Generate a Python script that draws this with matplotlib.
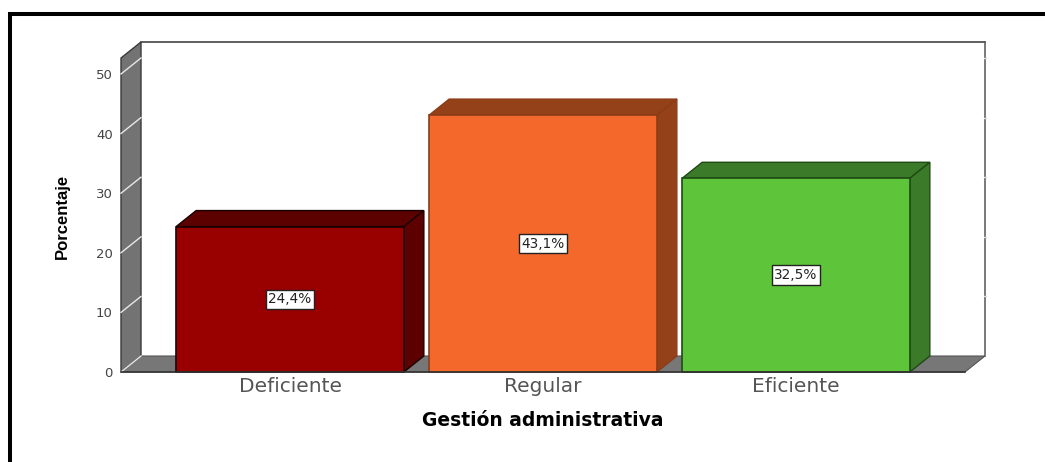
import matplotlib
matplotlib.use('Agg')
import matplotlib.pyplot as plt
from matplotlib.lines import Line2D

categories = ['Deficiente', 'Regular', 'Eficiente']
values = [24.4, 43.1, 32.5]
labels = ['24,4%', '43,1%', '32,5%']
yticks = [0, 10, 20, 30, 40, 50]

front_colors = ['#990000', '#f4682b', '#5ec43a']
side_colors = ['#5c0000', '#94411a', '#3a7a28']
edge_colors = ['#1a0000', '#8a3c18', '#1f4a16']

W, H = 1045, 462
fig = plt.figure(figsize=(W/100, H/100), dpi=100)
ax = fig.add_axes([121/W, (H-372)/H, 844/W, 314/H])

x0, x1 = -0.668, 2.668
y0, y1 = 0, 52.68
ax.set_xlim(x0, x1)
ax.set_ylim(y0, y1)

# depth of the fake 3d, in data units
dx = 20/253
dy = 16/5.96
bar_w = 0.9

# walls
ax.fill([x0+dx, x1+dx, x1+dx, x0+dx], [y0+dy, y0+dy, y1+dy, y1+dy], color='white', clip_on=False, zorder=1)
ax.fill([x0, x0+dx, x0+dx, x0], [y0, y0+dy, y1+dy, y1], facecolor='#737373', edgecolor='#3a3a3a', lw=1, clip_on=False, zorder=2)
ax.fill([x0, x1, x1+dx, x0+dx], [y0, y0, y0+dy, y0+dy], facecolor='#777777', edgecolor='#555555', lw=0.8, clip_on=False, zorder=2)
ax.plot([x0+dx, x1+dx], [y1+dy, y1+dy], color='#333333', lw=1.1, clip_on=False, zorder=2)
ax.plot([x1+dx, x1+dx], [y1+dy, y0+dy], color='#555555', lw=1.1, clip_on=False, zorder=2)

# gridlines only show on the side wall
for t in yticks:
    ax.plot([x0, x0+dx], [t, t+dy], color='#e8e8e8', lw=1, clip_on=False, zorder=3)
    if t > 0:
        ax.plot([x1+dx-0.004, x1+dx+0.004], [t+dy, t+dy], color='#dddddd', lw=1, clip_on=False, zorder=3)

for i, v in enumerate(values):
    l = i - bar_w/2
    r = i + bar_w/2
    ax.fill([l, r, r, l], [0, 0, v, v], facecolor=front_colors[i], edgecolor=edge_colors[i], lw=1.2, zorder=5, clip_on=False)
    ax.fill([l, r, r+dx, l+dx], [v, v, v+dy, v+dy], facecolor=side_colors[i], edgecolor=edge_colors[i], lw=1, zorder=4, clip_on=False)
    ax.fill([r, r+dx, r+dx, r], [0, dy, v+dy, v], facecolor=side_colors[i], edgecolor=edge_colors[i], lw=1, zorder=4, clip_on=False)
    ax.text(i, v/2, labels[i], ha='center', va='center', fontsize=9.8, color='#222222', zorder=6,
            bbox=dict(boxstyle='square,pad=0.2', facecolor='white', edgecolor='#222222', lw=1))

ax.plot([x0, x1], [0, 0], color='#333333', lw=1.2, clip_on=False, zorder=6)

for s in ax.spines.values():
    s.set_visible(False)
ax.patch.set_visible(False)
ax.set_xticks(range(3))
ax.set_xticklabels(categories, fontsize=14.5, color='#555555')
ax.set_yticks(yticks)
ax.set_yticklabels(yticks, fontsize=9.5, color='#444444')
ax.tick_params(length=0)
ax.tick_params(axis='y', pad=6)
ax.tick_params(axis='x', pad=3.5)

fig.text(543/W, 1-420/H, 'Gestión administrativa', ha='center', va='center', fontsize=13.5, fontweight='bold', color='black')
fig.text(62/W, 1-216/H, 'Porcentaje', ha='center', va='center', rotation=90, fontsize=12, fontweight='bold',
         family='Liberation Sans', color='black')

# black frame, only top and left are in the picture
fig.add_artist(Line2D([9.5/W, 9.5/W, 1], [0, 1-13.5/H, 1-13.5/H], color='black', lw=2.9, solid_joinstyle='miter'))

fig.savefig('out.png', dpi=100)
